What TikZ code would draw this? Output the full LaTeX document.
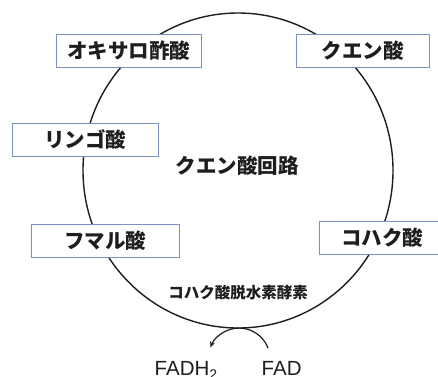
\documentclass[tikz,border=0pt]{standalone}
\usepackage{fontspec}
\setmainfont{Liberation Sans}
\newfontfamily\jp{Noto Sans CJK JP}
\usetikzlibrary{arrows.meta}
\definecolor{boxblue}{RGB}{122,145,196}
\definecolor{ink}{RGB}{30,30,30}
\tikzset{
  lbl/.style={draw=boxblue, line width=0.9pt, fill=white, inner sep=0pt,
    minimum height=33pt, font=\jp\bfseries\fontsize{20.5}{24}\selectfont, text=ink},
  ring/.style={draw=ink, line width=1.4pt},
  conv/.style={draw=ink, line width=1.2pt, -{Stealth[length=6pt,width=5pt]}},
  chem/.style={font=\fontsize{20.5}{24}\selectfont, text=ink, inner sep=0pt}
}
\begin{document}
\begin{tikzpicture}[x=1pt,y=-1pt]
\useasboundingbox[fill=white] (0,0) rectangle (438,376);
\coordinate (c) at (238,170.5);
\draw[ring] (c) ellipse[x radius=155, y radius=157.5];
\node[lbl, minimum width=145pt] (oaa) at (128.5,50.5) {オキサロ酢酸};
\node[lbl, minimum width=133pt] (cit) at (362.5,50.5) {クエン酸};
\node[lbl, minimum width=146pt] (mal) at (85,139.5) {リンゴ酸};
\node[lbl, minimum width=148pt] (fum) at (105,240.5) {フマル酸};
\node[lbl, minimum width=126pt, anchor=west] (suc) at (319,238) {コハク酸\hspace{16pt}};
\node[font=\jp\bfseries\fontsize{20.5}{24}\selectfont, text=ink] (tca) at (237,166) {クエン酸回路};
\node[font=\jp\bfseries\fontsize{15.5}{18}\selectfont, text=ink] (sdh) at (238,293) {コハク酸脱水素酵素};
\node[chem, anchor=base west] (fad) at (261.5,375) {FAD};
\node[chem, anchor=base west] (fadh) at (154.5,375) {FADH\raisebox{-4pt}{\fontsize{14}{16}\selectfont 2}};
\coordinate (a0) at (268,348);
\draw[conv] (a0) arc[start angle=-21, end angle=-158, radius=31];
\end{tikzpicture}
\end{document}
